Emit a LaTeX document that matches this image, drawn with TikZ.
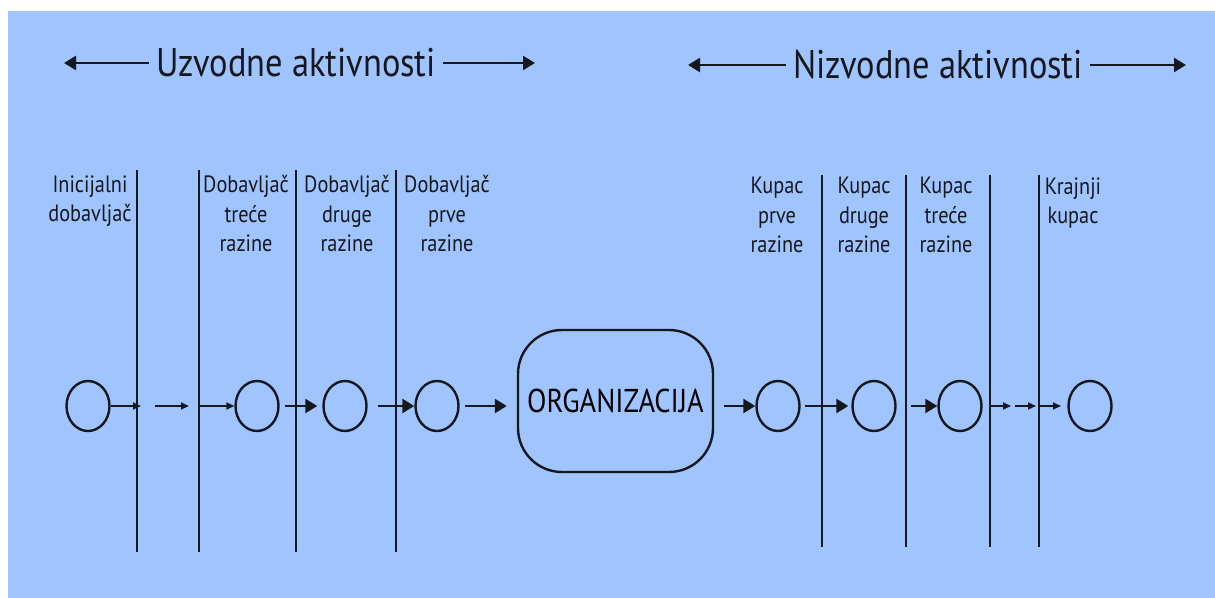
\documentclass[tikz,border=0pt]{standalone}
\usepackage{fontspec}
\setmainfont{PT Sans}[FakeStretch=0.86]
\usepackage{tikz}
\usetikzlibrary{arrows.meta, shapes.geometric, positioning}
\definecolor{bgblue}{RGB}{159,196,254}
\definecolor{inkcolor}{RGB}{22,24,30}

\begin{document}
\begin{tikzpicture}[
    x=0.5pt, y=-0.5pt,
    party/.style={draw=inkcolor, ellipse, line width=1.2pt, minimum width=21.5pt, minimum height=25pt, inner sep=0pt},
    org/.style={draw=inkcolor, rounded corners=22pt, line width=1.2pt, minimum width=97.5pt, minimum height=71pt, font=\fontsize{16.5}{18}\selectfont},
    tiertext/.style={anchor=north, align=center, inner sep=0pt, text=inkcolor, font=\fontsize{11.8}{14.75}\selectfont},
    headtext/.style={inner sep=3.5pt, text=inkcolor, font=\fontsize{20}{22}\selectfont},
    tier/.style={draw=inkcolor, line width=1.2pt},
    bigarrow/.style={-{Triangle[length=6pt, width=7pt]}, draw=inkcolor, line width=1.2pt},
    smallarrow/.style={-{Triangle[length=4pt, width=3.5pt]}, draw=inkcolor, line width=1.2pt},
    hdrarrow/.style={-{Triangle[length=6pt, width=7pt]}, draw=inkcolor, line width=1.2pt}
]
    % Background
    \fill[white] (0,0) rectangle (1215,598);
    \fill[bgblue] (8,11) rectangle (1215,598);
    \useasboundingbox (0,0) rectangle (1215,598);

    % Headers
    \node[headtext] (up) at (296,63) {Uzvodne aktivnosti};
    \node[headtext] (down) at (938,65) {Nizvodne aktivnosti};
    \coordinate (upL) at (64,63);
    \coordinate (upR) at (535,63);
    \coordinate (downL) at (688,65);
    \coordinate (downR) at (1186,65);
    \draw[hdrarrow] (up) -- (upL);
    \draw[hdrarrow] (up) -- (upR);
    \draw[hdrarrow] (down) -- (downL);
    \draw[hdrarrow] (down) -- (downR);

    % Tier lines
    \foreach \x in {137,199,296,396}
        \draw[tier] (\x,170) -- (\x,552);
    \foreach \x in {822,906,990,1039}
        \draw[tier] (\x,175) -- (\x,547);

    % Tier labels
    \node[tiertext] (tInit) at (90,175) {Inicijalni\\dobavljač};
    \node[tiertext] (tSup3) at (246,175) {Dobavljač\\treće\\razine};
    \node[tiertext] (tSup2) at (347,175) {Dobavljač\\druge\\razine};
    \node[tiertext] (tSup1) at (447,175) {Dobavljač\\prve\\razine};
    \node[tiertext] (tCus1) at (777,177) {Kupac\\prve\\razine};
    \node[tiertext] (tCus2) at (864,177) {Kupac\\druge\\razine};
    \node[tiertext] (tCus3) at (946,177) {Kupac\\treće\\razine};
    \node[tiertext] (tEnd) at (1073,177) {Krajnji\\kupac};

    % Entities
    \node[party] (init) at (88,406) {};
    \node[party] (sup3) at (257,406) {};
    \node[party] (sup2) at (345,406) {};
    \node[party] (sup1) at (437,406) {};
    \node[org] (org) at (615.5,401) {ORGANIZACIJA};
    \node[party] (cus1) at (778,406) {};
    \node[party] (cus2) at (874,406) {};
    \node[party] (cus3) at (960,406) {};
    \node[party] (endc) at (1090,406) {};

    % Free arrow ends
    \coordinate (a1) at (141,406);
    \coordinate (a2s) at (155,406);
    \coordinate (a2e) at (189,406);
    \coordinate (a3s) at (199,406);
    \coordinate (b1) at (1011,406);
    \coordinate (b2s) at (1015,406);
    \coordinate (b2e) at (1036,406);
    \coordinate (b3s) at (1039,406);
    \coordinate (b3e) at (1061,406);

    % Flows
    \draw[smallarrow] (init) -- (a1);
    \draw[smallarrow] (a2s) -- (a2e);
    \draw[smallarrow] (a3s) -- (sup3);
    \draw[bigarrow, shorten <=2.5pt, shorten >=2.5pt] (sup3) -- (sup2);
    \draw[bigarrow, shorten <=5pt] (sup2) -- (sup1);
    \draw[bigarrow, shorten <=2.5pt, shorten >=5pt] (sup1) -- (sup1 -| org.west);
    \draw[bigarrow, shorten <=5pt] (cus1 -| org.east) -- (cus1);
    \draw[bigarrow, shorten <=2pt, shorten >=1.5pt] (cus1) -- (cus2);
    \draw[bigarrow, shorten <=7pt] (cus2) -- (cus3);
    \draw[smallarrow, shorten <=4pt] (cus3) -- (b1);
    \draw[smallarrow] (b2s) -- (b2e);
    \draw[smallarrow] (b3s) -- (b3e);
\end{tikzpicture}
\end{document}
